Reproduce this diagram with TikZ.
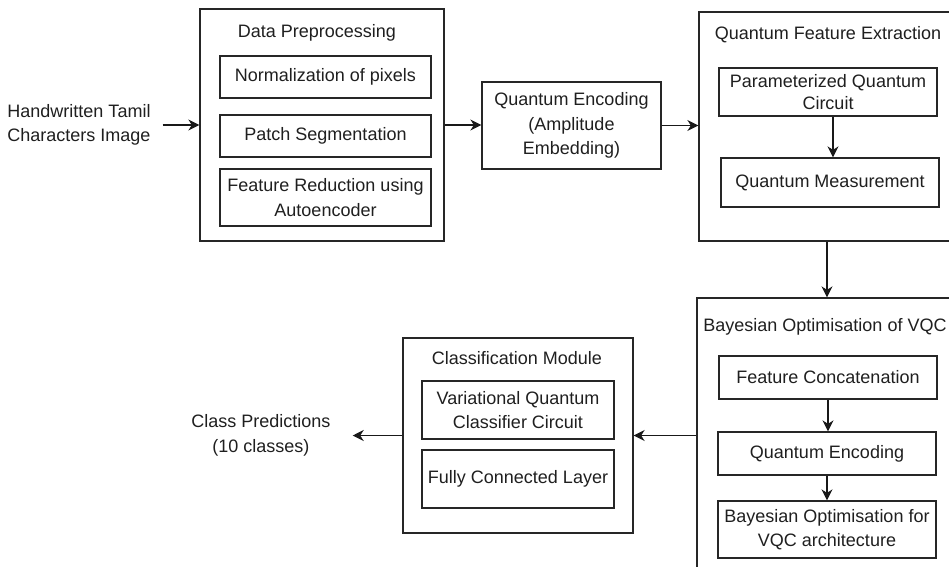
\documentclass[tikz,border=0pt]{standalone}
\usepackage{fontspec}
\setmainfont{Liberation Sans}
\usetikzlibrary{arrows.meta,calc}
\begin{document}
\begin{tikzpicture}[x=1pt,y=-1pt,
  every node/.style={font=\fontsize{18}{24.5}\selectfont, text=black!88, align=center},
  box/.style={draw=black!85, line width=1.3pt, rectangle, inner sep=0pt},
  lbl/.style={inner sep=0pt},
  arr/.style={draw=black!90, line width=1.3pt, -{Stealth[length=11pt,width=11pt,inset=3.5pt]}}]
\useasboundingbox (0,0) rectangle (949,566);
\clip (0,0) rectangle (949,566);
% outer boxes
\node[box, minimum width=244pt, minimum height=232pt] (dp) at (322,125) {};
\node[box, minimum width=256pt, minimum height=229pt] (qfe) at (827,126.5) {};
\node[box, minimum width=258pt, minimum height=282pt] (bo) at (826,439) {};
\node[box, minimum width=230pt, minimum height=195pt] (cm) at (518,435.5) {};
% titles
\node[lbl] (dpT) at (317,33) {Data Preprocessing};
\node[lbl] (qfeT) at (828,35) {Quantum Feature Extraction};
\node[lbl] (boT) at (825,327) {Bayesian Optimisation of VQC};
\node[lbl] (cmT) at (517,358) {Classification Module};
% free texts
\node[lbl] (in) at (79,125) {Handwritten Tamil\\Characters Image};
\node[lbl] (out) at (261,435.5) {Class Predictions\\(10 classes)};
% inner boxes
\node[box, minimum width=211pt, minimum height=42pt] (dp1) at (325.5,77) {Normalization of pixels};
\node[box, minimum width=211pt, minimum height=42pt] (dp2) at (325.5,136) {Patch Segmentation};
\node[box, minimum width=211pt, minimum height=57pt] (dp3) at (325.5,197.5) {Feature Reduction using\\Autoencoder};
\node[box, minimum width=179pt, minimum height=87pt] (qe) at (571.5,125.5) {Quantum Encoding\\(Amplitude\\Embedding)};
\node[box, minimum width=218pt, minimum height=48pt] (qfe1) at (828,92) {\raisebox{-4pt}{\shortstack{Parameterized Quantum\\[2pt]Circuit}}};
\node[box, minimum width=218pt, minimum height=49pt] (qfe2) at (830,182.5) {Quantum Measurement};
\node[box, minimum width=218pt, minimum height=43pt] (bo1) at (828,377.5) {Feature Concatenation};
\node[box, minimum width=218pt, minimum height=43pt] (bo2) at (827,453.5) {Quantum Encoding};
\node[box, minimum width=218pt, minimum height=57pt] (bo3) at (827,529.5) {Bayesian Optimisation for\\VQC architecture};
\node[box, minimum width=192pt, minimum height=58pt] (cm1) at (518,410) {Variational Quantum\\Classifier Circuit};
\node[box, minimum width=192pt, minimum height=58pt] (cm2) at (518,479) {Fully Connected Layer};
% connectors
\draw[arr] ([xshift=12pt]in.east) -- (in.east -| dp.west);
\draw[arr] (dp.east) -- (dp.east -| qe.west);
\draw[arr] (qe.east) -- (qe.east -| qfe.west);
\draw[arr] ([xshift=5pt]qfe1.south) -- ([xshift=5pt]qfe1.south |- qfe2.north);
\draw[arr] (qfe.south) -- (qfe.south |- bo.north);
\draw[arr] (bo1.south) -- (bo1.south |- bo2.north);
\draw[arr] (bo2.south) -- (bo3.north);
\draw[arr] (cm.east -| bo.west) -- (cm.east);
\draw[arr] (cm.west) -- ([xshift=22pt]out.east |- cm.west);
\end{tikzpicture}
\end{document}
